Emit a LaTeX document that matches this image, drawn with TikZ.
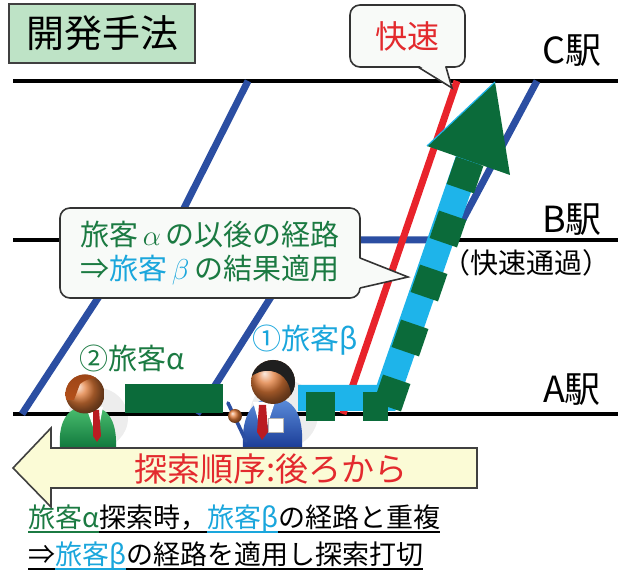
\documentclass[tikz,border=0pt]{standalone}
\usepackage{fontspec}
\setmainfont{Noto Sans CJK JP}
\usetikzlibrary{shapes.geometric}

\definecolor{lineblue}{HTML}{2B4EA2}
\definecolor{expred}{HTML}{E8232B}
\definecolor{pathcyan}{HTML}{1EB4EA}
\definecolor{dkgreen}{HTML}{0B6B3A}
\definecolor{txtgreen}{HTML}{1B7A42}
\definecolor{txtcyan}{HTML}{1AA6DC}
\definecolor{txtred}{HTML}{E32A2E}
\definecolor{titlegreen}{HTML}{BEE3C6}
\definecolor{boxyellow}{HTML}{FBFBD6}
\definecolor{bubblefill}{HTML}{F8FAF8}
\definecolor{facecol}{HTML}{E07A38}
\definecolor{hairbrown}{HTML}{B4501A}
\definecolor{suitgreenA}{HTML}{4CC070}
\definecolor{suitgreenB}{HTML}{127A3E}
\definecolor{suitblueA}{HTML}{5C8EDC}
\definecolor{suitblueB}{HTML}{1C3E98}

% underline drawn in the current text colour
\newcommand\undl[1]{\setbox0\hbox{#1}\rlap{\rule[-0.2em]{\wd0}{0.07em}}\box0}
\newcommand\fsz[2]{\fontsize{#1}{#2}\selectfont}

\begin{document}
\begin{tikzpicture}[x=0.5pt,y=-0.5pt,
  station/.style={line width=2pt, black},
  local/.style={line width=3.5pt, lineblue, line join=round},
  express/.style={line width=3.5pt, expred},
  pathband/.style={line width=13pt, pathcyan},
  blk/.style={fill=dkgreen, inner sep=0pt, minimum width=14.5pt, minimum height=14.5pt},
  bubble/.style={draw=black!80, line width=0.8pt, fill=bubblefill, rounded corners=5pt, inner sep=0pt},
  bubbleedge/.style={draw=black!80, line width=0.8pt},
  lbl/.style={inner sep=0pt},
]
\useasboundingbox (0,0) rectangle (632,576);

% soft shadows behind the two passengers
\fill[black!7] (98,418) circle (30);
\fill[black!7] (284,414) circle (34);

% station lines
\draw[station] (13,81) -- (618,81);
\draw[station] (13,240) -- (618,240);
\draw[station] (13,414) -- (618,414);

% local trains (stop at B)
\draw[local] (22,414) -- (136,240) -- (168,240) -- (248,81);
\draw[local] (197,414) -- (307,240) -- (452,240) -- (537,81);

% express train
\draw[express] (457,81) -- (343,414);

% route of passenger beta
\draw[pathband] (298,398) -- (386,398) -- (470,155);

% dashed green arrow along the route
\node[blk] (s1) at (320,407) {};
\node[blk, minimum width=12.5pt] (s2) at (375,407) {};
\node[blk, rotate=-19] (s3) at (392,393) {};
\node[blk, rotate=-19] (s4) at (410,338) {};
\node[blk, rotate=-19] (s5) at (429,283) {};
\node[blk, rotate=-19] (s6) at (448,229) {};
\node[blk, rotate=-19] (s7) at (465,175) {};
\fill[dkgreen] (495,82) -- (510,175) -- (427,146) -- cycle;
\draw[pathcyan, line width=0.6pt] (427,146) -- (495,82);

% route of passenger alpha on A
\fill[dkgreen] (125,384) rectangle (223,413);

% title
\node[draw=black!75, line width=0.8pt, fill=titlegreen, minimum width=93pt, minimum height=29.5pt, inner sep=0pt, font=\fsz{19}{22}] (title) at (102,33.5) {開発手法};

% callout: express
\node[bubble, minimum width=57.5pt, minimum height=31pt, text=txtred, font=\fsz{16}{18}] (fast) at (407.5,36) {快速};
\fill[bubblefill] (419,65.5) -- (452,88) -- (445,65.5) -- cycle;
\draw[bubbleedge] (418,67) -- (452,88) -- (446,67);

% callout: reuse of route
\node[bubble, minimum width=150pt, minimum height=45pt, align=left, font=\fsz{14.5}{17}] (note) at (210,253)
  {{\color{txtgreen}旅客\,$\alpha$\,の以後の経路}\\
   {\color{txtgreen}⇒}{\color{txtcyan}旅客\,$\beta$\,}{\color{txtgreen}の結果適用}};
\fill[bubblefill] (358.5,258) -- (408,277) -- (358.5,288) -- cycle;
\draw[bubbleedge] (360,258) -- (408,277) -- (360,288);

% search order arrow
\draw[fill=boxyellow, draw=black!75, line width=0.8pt]
  (477,448) -- (51,448) -- (51,428) -- (13,468) -- (51,507) -- (51,488) -- (477,488) -- cycle;
\node[lbl, text=txtred, font=\fsz{16.5}{18}] (order) at (271,469) {探索順序:後ろから};

% passenger alpha
\shade[top color=suitgreenA, bottom color=suitgreenB]
  (60,447) .. controls (58,418) and (70,406) .. (88,406) .. controls (106,406) and (117,418) .. (116,447) -- cycle;
\fill[white] (86,407) -- (103,407) -- (97,438) -- cycle;
\fill[expred!80!black] (93,410) -- (99,410) -- (101,436) -- (97,442) -- (93,436) -- cycle;
\shade[ball color=facecol] (85,394) circle (19.5);
\begin{scope}
  \clip (85,394) circle (19.5);
  \shade[top color=hairbrown!85!black, bottom color=hairbrown]
    (60,370) -- (110,370) -- (110,381) .. controls (100,377) and (88,377) .. (80,384) -- (74,400) -- (60,400) -- cycle;
\end{scope}

% passenger beta
\shade[top color=suitblueA, bottom color=suitblueB]
  (243,447) .. controls (241,412) and (255,398) .. (273,398) .. controls (292,398) and (304,412) .. (302,447) -- cycle;
\fill[white] (253,402) -- (275,402) -- (263,438) -- cycle;
\fill[expred!80!black] (259,405) -- (266,405) -- (268,432) -- (262,440) -- (257,432) -- cycle;
\fill[white, draw=black!30, line width=0.3pt] (268,418) rectangle (283,432);
\shade[ball color=facecol] (273,382) circle (22);
\begin{scope}
  \clip (273,382) circle (22);
  \fill[black!88]
    (248,355) -- (300,355) -- (300,402) -- (291,400) .. controls (292,386) and (285,373) .. (271,371) .. controls (262,370) and (255,373) .. (249,378) -- cycle;
\end{scope}
\draw[lineblue, line width=1.8pt, line cap=round] (228,403) -- (246,441);
\shade[ball color=facecol] (235,416) circle (7);

% station names
\node[lbl, font=\fsz{18}{20}] (stC) at (572,51) {C駅};
\node[lbl, font=\fsz{18}{20}] (stB) at (572,220) {B駅};
\node[lbl, font=\fsz{18}{20}] (stA) at (572,390) {A駅};
\node[lbl, font=\fsz{14}{16}] (pass) at (526,263) {（快速通過）};

% passengers
\node[lbl, text=txtgreen, font=\fsz{14.5}{16}] (pa) at (132,358) {②旅客α};
\node[lbl, text=txtcyan, font=\fsz{14.5}{16}] (pb) at (305,340) {①旅客β};

% explanation
\node[lbl, anchor=west, font=\fsz{13.5}{16}] (rule1) at (28,519)
  {{\color{txtgreen}\undl{旅客α}}\undl{探索時，}{\color{txtcyan}\undl{旅客β}}\undl{の経路と重複}};
\node[lbl, anchor=west, font=\fsz{13.5}{16}] (rule2) at (28,556)
  {\undl{⇒}{\color{txtcyan}\undl{旅客β}}\undl{の経路を適用し探索打切}};
\end{tikzpicture}
\end{document}
